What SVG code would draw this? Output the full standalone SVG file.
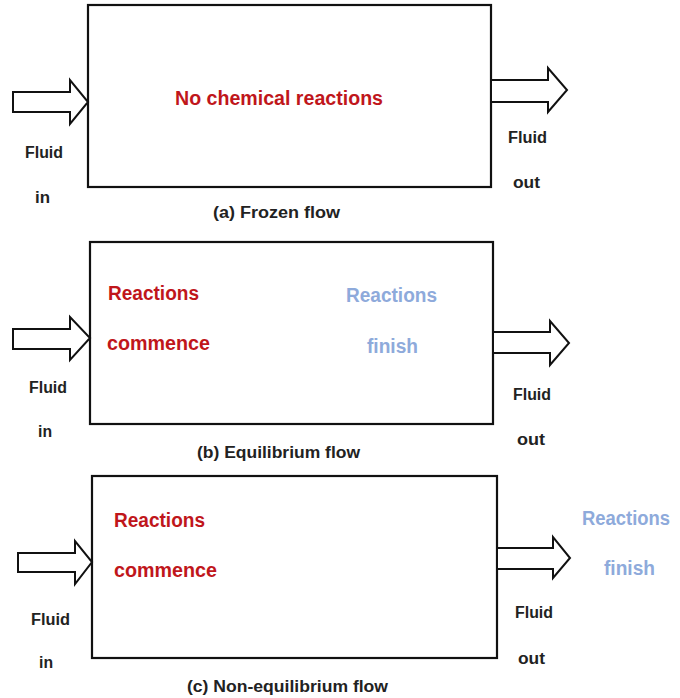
<svg xmlns="http://www.w3.org/2000/svg" width="680" height="698" viewBox="0 0 680 698">
<style>
text{font-family:"Liberation Sans",Arial,sans-serif;font-weight:bold}
.lbl{font-size:16px;fill:#222}
.cap{font-size:16px;fill:#222}
.red{font-size:20px;fill:#c0161b}
.blue{font-size:20px;fill:#8eaadb}
.box{fill:#fff;stroke:#111;stroke-width:2.2}
.arr{fill:#fff;stroke:#111;stroke-width:2;stroke-linejoin:miter}
</style>
<rect width="680" height="698" fill="#fff"/>
<g id="box-a"><rect class="box" x="88" y="5" width="403" height="182"/>
<text class="red" x="175" y="105" textLength="208" lengthAdjust="spacingAndGlyphs">No chemical reactions</text></g>
<g id="box-b"><rect class="box" x="90" y="242" width="403" height="182"/>
<text class="red" x="108" y="300" textLength="91" lengthAdjust="spacingAndGlyphs">Reactions</text>
<text class="red" x="107" y="350" textLength="103" lengthAdjust="spacingAndGlyphs">commence</text>
<text class="blue" x="346" y="302" textLength="91" lengthAdjust="spacingAndGlyphs">Reactions</text>
<text class="blue" x="367" y="353" textLength="51" lengthAdjust="spacingAndGlyphs">finish</text></g>
<g id="box-c"><rect class="box" x="92" y="476" width="405" height="182"/>
<text class="red" x="114" y="527" textLength="91" lengthAdjust="spacingAndGlyphs">Reactions</text>
<text class="red" x="114" y="577" textLength="103" lengthAdjust="spacingAndGlyphs">commence</text></g>
<g id="labels-a">
<text class="lbl" x="25" y="158" textLength="38" lengthAdjust="spacingAndGlyphs">Fluid</text>
<text class="lbl" x="35" y="203" textLength="15" lengthAdjust="spacingAndGlyphs">in</text>
<text class="lbl" x="508" y="143" textLength="39" lengthAdjust="spacingAndGlyphs">Fluid</text>
<text class="lbl" x="513" y="188" textLength="27" lengthAdjust="spacingAndGlyphs">out</text>
<text class="cap" x="213" y="218" textLength="127" lengthAdjust="spacingAndGlyphs">(a)  Frozen flow</text></g>
<g id="labels-b">
<text class="lbl" x="29" y="393" textLength="38" lengthAdjust="spacingAndGlyphs">Fluid</text>
<text class="lbl" x="38" y="437" textLength="14" lengthAdjust="spacingAndGlyphs">in</text>
<text class="lbl" x="513" y="400" textLength="38" lengthAdjust="spacingAndGlyphs">Fluid</text>
<text class="lbl" x="517" y="445" textLength="28" lengthAdjust="spacingAndGlyphs">out</text>
<text class="cap" x="197" y="458" textLength="163" lengthAdjust="spacingAndGlyphs">(b)  Equilibrium flow</text></g>
<g id="labels-c">
<text class="lbl" x="31" y="625" textLength="39" lengthAdjust="spacingAndGlyphs">Fluid</text>
<text class="lbl" x="39" y="668" textLength="14" lengthAdjust="spacingAndGlyphs">in</text>
<text class="lbl" x="515" y="618" textLength="38" lengthAdjust="spacingAndGlyphs">Fluid</text>
<text class="lbl" x="518" y="664" textLength="27" lengthAdjust="spacingAndGlyphs">out</text>
<text class="blue" x="582" y="525" textLength="88" lengthAdjust="spacingAndGlyphs">Reactions</text>
<text class="blue" x="604" y="575" textLength="51" lengthAdjust="spacingAndGlyphs">finish</text>
<text class="cap" x="187" y="692" textLength="201" lengthAdjust="spacingAndGlyphs">(c)  Non-equilibrium flow</text></g>
<g id="connectors">
<path class="arr" d="M13,92 L70,92 L70,80 L88,102 L70,124 L70,112 L13,112 Z"/>
<path class="arr" d="M491,80 L548,80 L548,68 L567,90 L548,112 L548,102 L491,102 Z"/>
<path class="arr" d="M13,329 L70,329 L70,317 L90,338 L70,360 L70,349 L13,349 Z"/>
<path class="arr" d="M493,332 L550,332 L550,321 L569,343 L550,365 L550,353 L493,353 Z"/>
<path class="arr" d="M18,553 L75,553 L75,541 L92,562 L75,584 L75,572 L18,572 Z"/>
<path class="arr" d="M497,548 L553,548 L553,537 L570,558 L553,578 L553,569 L497,569 Z"/>
</g>
</svg>
